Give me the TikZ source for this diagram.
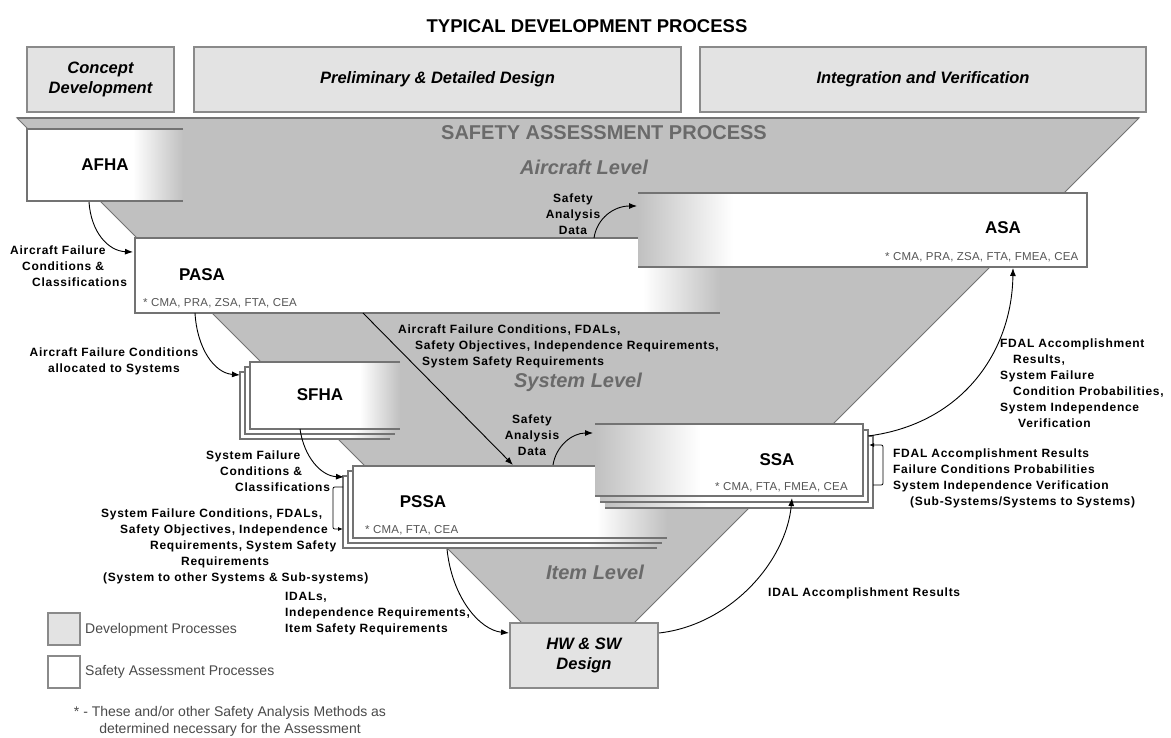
\documentclass[tikz,border=0pt]{standalone}
\usepackage{fontspec}
\setmainfont{Liberation Sans}
\newfontfamily\lblfont[LetterSpace=6]{Liberation Sans}
\newfontfamily\smallfont[LetterSpace=2]{Liberation Sans}
\usetikzlibrary{arrows.meta}

\definecolor{funnel}{HTML}{C0C0C0}
\definecolor{rim}{HTML}{737373}
\definecolor{devfill}{HTML}{E3E3E3}
\definecolor{devrim}{HTML}{8A8A8A}
\definecolor{levelgray}{HTML}{6A6A6A}
\definecolor{methodgray}{HTML}{555555}
\definecolor{legendgray}{HTML}{4A4A4A}

\newcommand{\fsz}[2]{\fontsize{#1}{#2}\selectfont}
% box whose right end fades into the funnel: x1,y1,x2,y2,fade start
\newcommand{\rightfade}[5]{%
  \fill[white] (#1,#2) rectangle (#5,#4);
  \shade[left color=white,right color=funnel] (#5,#2) rectangle (#3,#4);
  \draw[rimline] (#3,#2) -- (#1,#2) -- (#1,#4) -- (#3,#4);}
% box whose left end fades out of the funnel: x1,y1,x2,y2,fade end
\newcommand{\leftfade}[5]{%
  \shade[left color=funnel,right color=white] (#1,#2) rectangle (#5,#4);
  \fill[white] (#5,#2) rectangle (#3,#4);
  \draw[rimline] (#1,#2) -- (#3,#2) -- (#3,#4) -- (#1,#4);}

\begin{document}
\begin{tikzpicture}[x=1pt,y=-1pt,
  rimline/.style={draw=rim,line width=1.2pt},
  devbox/.style={draw=devrim,fill=devfill,line width=1.1pt,inner sep=0pt,align=center,
                 font=\bfseries\itshape\fsz{16.5}{19.5}},
  lbl/.style={font=\lblfont\bfseries\fsz{12}{16},align=left,anchor=north west,inner sep=0pt},
  clbl/.style={lbl,align=center,anchor=north},
  flow/.style={-{Latex[length=8pt,width=6pt]},line width=0.9pt},
  boxtitle/.style={font=\bfseries\fsz{17}{20},inner sep=0pt},
  methods/.style={font=\smallfont\fsz{11.5}{13},text=methodgray,anchor=base west,inner sep=0pt},
  leveltitle/.style={font=\bfseries\itshape\fsz{20}{24},text=levelgray,inner sep=0pt},
  legendtext/.style={font=\fsz{14}{17},text=legendgray,anchor=west,inner sep=0pt}]

\useasboundingbox (0,0) rectangle (1171,738);
\fill[white] (0,0) rectangle (1171,738);

% ---------- development process header ----------
\node[font=\bfseries\fsz{18.5}{22}] (title) at (587,26) {TYPICAL DEVELOPMENT PROCESS};
\node[devbox,minimum width=147pt,minimum height=65pt] (concept) at (100.5,79.5) {Concept\\Development};
\node[devbox,minimum width=487pt,minimum height=65pt] (design) at (437.5,79.5) {Preliminary \& Detailed Design};
\node[devbox,minimum width=446pt,minimum height=65pt] (integ) at (923,79.5) {Integration and Verification};

% ---------- safety assessment funnel ----------
\filldraw[fill=funnel,draw=rim,line width=1pt] (17,118) -- (1139,118) -- (634,623) -- (522,623) -- cycle;
\draw[rim,line width=1.6pt] (17,118) -- (1139,118);
\node[font=\bfseries\fsz{20}{24},text=levelgray,inner sep=0pt] (sap) at (604,133) {SAFETY ASSESSMENT PROCESS};
\node[leveltitle] (aclevel) at (584,167) {Aircraft Level};
\node[leveltitle] (syslevel) at (578,382) {System Level};
\node[leveltitle] (itemlevel) at (595,572) {Item Level};

% aircraft level boxes
\rightfade{27}{129}{183}{201}{133}
\node[boxtitle] (afha) at (105,165) {AFHA};
\rightfade{135}{238}{720}{313}{643}
\node[boxtitle] (pasa) at (202,275) {PASA};
\node[methods] (pasam) at (143,307) {* CMA, PRA, ZSA, FTA, CEA};
\leftfade{638}{193}{1087}{267}{733}
\node[boxtitle] (asa) at (1003,228) {ASA};
\node[methods] (asam) at (885,261) {* CMA, PRA, ZSA, FTA, FMEA, CEA};

% system level boxes (stacked sheets)
\rightfade{240}{372}{390}{439}{350}
\rightfade{245}{367}{395}{434}{355}
\rightfade{250}{362}{400}{429}{360}
\node[boxtitle] (sfha) at (320,395) {SFHA};
\rightfade{343}{476}{657}{548}{587}
\rightfade{348}{471}{662}{543}{592}
\rightfade{353}{466}{667}{538}{597}
\node[boxtitle] (pssa) at (423,502) {PSSA};
\node[methods] (pssam) at (365,533) {* CMA, FTA, CEA};
\leftfade{605}{436}{873}{508}{710}
\leftfade{600}{430}{868}{502}{705}
\leftfade{595}{424}{863}{496}{700}
\node[boxtitle] (ssa) at (777,460) {SSA};
\node[methods] (ssam) at (715,490) {* CMA, FTA, FMEA, CEA};

% item level
\node[devbox,minimum width=148pt,minimum height=65pt] (hw) at (584,655.5) {HW \& SW\\Design};

% ---------- connector end points ----------
\coordinate (afha-out) at (89,202);
\coordinate (pasa-in) at (133,252);
\coordinate (pasa-out1) at (195,313);
\coordinate (sfha-in) at (240,375);
\coordinate (pasa-out2) at (363,313);
\coordinate (pssa-in1) at (513,465);
\coordinate (pasa-up) at (594,238);
\coordinate (asa-in1) at (637,206);
\coordinate (sfha-out) at (300,429);
\coordinate (pssa-in2) at (344,477);
\coordinate (pssa-up) at (553,465);
\coordinate (ssa-in1) at (593,433);
\coordinate (pssa-down) at (447,549);
\coordinate (hw-in) at (509,633);
\coordinate (hw-out) at (659,633);
\coordinate (ssa-in2) at (792,498);
\coordinate (ssa-out) at (868,436);
\coordinate (asa-in2) at (1013,268);
\coordinate (pssa-loopa) at (343,487);
\coordinate (pssa-loopb) at (343,529);
\coordinate (ssa-loopa) at (873,485);
\coordinate (ssa-loopb) at (869,445);

% ---------- connectors ----------
\draw[flow] (afha-out) .. controls (91,232) and (108,251) .. (pasa-in);
\draw[flow] (pasa-out1) .. controls (197,348) and (214,373) .. (sfha-in);
\draw[flow] (pasa-out2) -- (pssa-in1);
\draw[flow] (pasa-up) .. controls (597,218) and (614,206) .. (asa-in1);
\draw[flow] (sfha-out) .. controls (304,457) and (321,476) .. (pssa-in2);
\draw[flow] (pssa-up) .. controls (556,446) and (572,433) .. (ssa-in1);
\draw[flow] (pssa-down) .. controls (452,598) and (480,630) .. (hw-in);
\draw[flow] (hw-out) .. controls (730,625) and (786,562) .. (ssa-in2);
\draw[flow] (ssa-out) .. controls (962,424) and (1012,352) .. (asa-in2);
\draw[-{Latex[length=5pt,width=4pt]},line width=0.8pt]
  (pssa-loopa) -- (337,487) .. controls (333,487) .. (333,491) -- (333,525)
  .. controls (333,529) .. (337,529) -- (pssa-loopb);
\draw[-{Latex[length=5pt,width=4pt]},line width=0.8pt]
  (ssa-loopa) -- (879,485) .. controls (883,485) .. (883,481) -- (883,449)
  .. controls (883,445) .. (879,445) -- (ssa-loopb);

% ---------- connector labels ----------
\node[lbl] (l-afc) at (10,245.5) {Aircraft Failure\\\hspace*{12pt}Conditions \&\\\hspace*{22pt}Classifications};
\node[clbl] (l-alloc) at (114,347.5) {Aircraft Failure Conditions\\allocated to Systems};
\node[lbl] (l-fdal) at (398,324.5) {Aircraft Failure Conditions, FDALs,\\\hspace*{17pt}Safety Objectives, Independence Requirements,\\\hspace*{24pt}System Safety Requirements};
\node[clbl] (l-sad1) at (573,193.5) {Safety\\Analysis\\Data};
\node[lbl] (l-sfc) at (206,450.5) {System Failure\\\hspace*{14pt}Conditions \&\\\hspace*{29pt}Classifications};
\node[lbl] (l-sys) at (101,508.5) {System Failure Conditions, FDALs,\\\hspace*{19pt}Safety Objectives, Independence\\\hspace*{49pt}Requirements, System Safety\\\hspace*{80pt}Requirements\\\hspace*{2pt}(System to other Systems \& Sub-systems)};
\node[clbl] (l-sad2) at (532,414.5) {Safety\\Analysis\\Data};
\node[lbl] (l-res) at (1000,338.5) {FDAL Accomplishment\\\hspace*{13pt}Results,\\System Failure\\\hspace*{13pt}Condition Probabilities,\\System Independence\\\hspace*{18pt}Verification};
\node[lbl] (l-sub) at (893,448.5) {FDAL Accomplishment Results\\Failure Conditions Probabilities\\System Independence Verification\\\hspace*{17pt}(Sub-Systems/Systems to Systems)};
\node[lbl] (l-idal) at (285,592.5) {IDALs,\\Independence Requirements,\\Item Safety Requirements};
\node[lbl] (l-idalres) at (768,587.5) {IDAL Accomplishment Results};

% ---------- legend ----------
\filldraw[fill=devfill,draw=devrim,line width=1.1pt] (48,613) rectangle (80,645);
\node[legendtext] (leg-dev) at (85,630) {Development Processes};
\filldraw[fill=white,draw=devrim,line width=1.1pt] (48,656) rectangle (80,688);
\node[legendtext] (leg-sa) at (85,672) {Safety Assessment Processes};
\node[font=\fsz{14}{17},text=legendgray,align=center,anchor=north,inner sep=0pt] (foot) at (230,706)
  {* - These and/or other Safety Analysis Methods as\\determined necessary for the Assessment};
\end{tikzpicture}
\end{document}
